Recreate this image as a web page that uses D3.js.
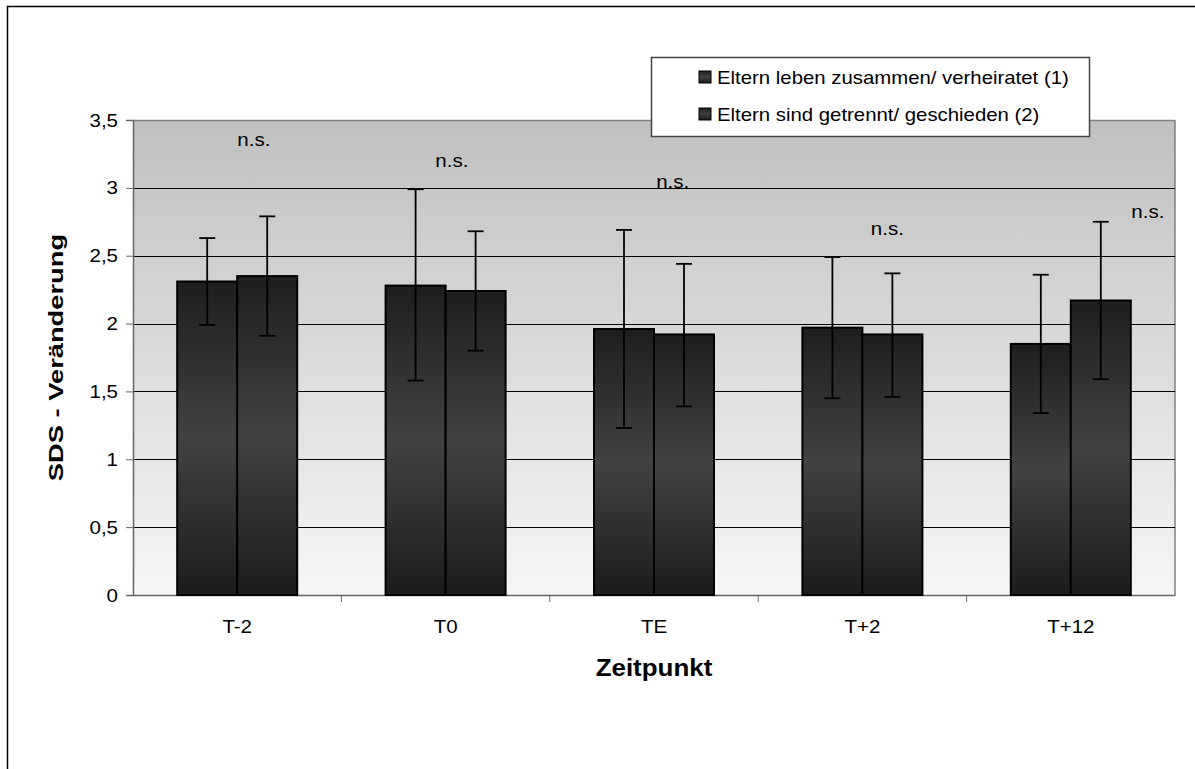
<!DOCTYPE html>
<html><head><meta charset="utf-8">
<script src="https://cdn.jsdelivr.net/npm/d3@7"></script>
<style>body{margin:0;background:#fff;}svg{display:block;font-family:Arial,"Liberation Sans",sans-serif;}</style>
</head><body>
<script>
const categories = ["T-2", "T0", "TE", "T+2", "T+12"];
const seriesNames = ["Eltern leben zusammen/ verheiratet (1)", "Eltern sind getrennt/ geschieden (2)"];
const meanTogether = [2.31, 2.28, 1.96, 1.97, 1.85];
const meanSeparated = [2.35, 2.24, 1.92, 1.92, 2.17];
const upperTogether = [2.63, 2.99, 2.69, 2.49, 2.36];
const lowerTogether = [1.99, 1.58, 1.23, 1.45, 1.34];
const upperSeparated = [2.79, 2.68, 2.44, 2.37, 2.75];
const lowerSeparated = [1.91, 1.80, 1.39, 1.46, 1.59];
const yTicks = [0, 0.5, 1, 1.5, 2, 2.5, 3, 3.5];
const yTickLabels = ["0", "0,5", "1", "1,5", "2", "2,5", "3", "3,5"];
const sigLabels = ["n.s.", "n.s.", "n.s.", "n.s.", "n.s."];
const sigLabelValue = [3.35, 3.2, 3.04, 2.7, 2.82];
const sigLabelShift = [0.08, 0.03, 0.09, 0.12, 0.37];

const W = 1195, H = 769;
const FONT = "Arial, 'Liberation Sans', sans-serif";
const svg = d3.select("body").append("svg").attr("width", W).attr("height", H);
const defs = svg.append("defs");
const bg = defs.append("linearGradient").attr("id","bg").attr("x1",0).attr("y1",0).attr("x2",0).attr("y2",1);
bg.append("stop").attr("offset","0%").attr("stop-color","#c0c0c0");
bg.append("stop").attr("offset","100%").attr("stop-color","#f6f6f6");
const bar = defs.append("linearGradient").attr("id","bar").attr("x1",0).attr("y1",0).attr("x2",0).attr("y2",1);
bar.append("stop").attr("offset","0%").attr("stop-color","#1e1e1e");
bar.append("stop").attr("offset","50%").attr("stop-color","#424242");
bar.append("stop").attr("offset","100%").attr("stop-color","#1c1c1c");

function stretch(sel, f){
  sel.each(function(){
    const len = this.getComputedTextLength();
    d3.select(this).attr("textLength", len*f).attr("lengthAdjust","spacingAndGlyphs");
  });
}

// outer frame
svg.append("rect").attr("x",7.5).attr("y",6.5).attr("width",W).attr("height",H).attr("fill","#fff").attr("stroke","#000").attr("stroke-width",1.5);

const m = {left:133, right:1175, top:120, bottom:595};
const x = d3.scaleBand().domain(categories).range([m.left, m.right]).paddingInner(0).paddingOuter(0);
const y = d3.scaleLinear().domain([0,3.5]).range([m.bottom, m.top]);
const barW = 60;

svg.append("rect").attr("x",m.left).attr("y",m.top).attr("width",m.right-m.left).attr("height",m.bottom-m.top).attr("fill","url(#bg)");
svg.append("line").attr("x1",m.left).attr("x2",m.right).attr("y1",m.top+0.5).attr("y2",m.top+0.5).attr("stroke","#808080").attr("stroke-width",1.5);
svg.append("line").attr("x1",m.right).attr("x2",m.right).attr("y1",m.top).attr("y2",m.bottom).attr("stroke","#808080").attr("stroke-width",1.5);

// gridlines
svg.append("g").selectAll("line").data(yTicks.filter(d=>d>0 && d<3.5)).join("line")
  .attr("x1",m.left).attr("x2",m.right).attr("y1",d=>Math.round(y(d))+0.5).attr("y2",d=>Math.round(y(d))+0.5)
  .attr("stroke","#000").attr("stroke-width",1);

// y axis
const yAxis = d3.axisLeft(y).tickValues(yTicks).tickFormat((d,i)=>yTickLabels[i]).tickSize(7).tickPadding(8);
const gy = svg.append("g").attr("transform",`translate(${m.left},0)`).call(yAxis);
gy.attr("font-family",FONT).attr("font-size",19);
gy.select(".domain").attr("stroke","#666").attr("stroke-width",1.5);
gy.selectAll(".tick line").attr("stroke","#666");
gy.selectAll("text").attr("fill","#000").call(stretch,1.08);

// x axis
const xAxis = d3.axisBottom(x).tickSize(0).tickPadding(25);
const gx = svg.append("g").attr("transform",`translate(0,${m.bottom})`).call(xAxis);
gx.attr("font-family",FONT).attr("font-size",19);
gx.select(".domain").attr("stroke","#666").attr("stroke-width",1.5);
gx.selectAll("text").attr("fill","#000").call(stretch,1.08);
svg.append("g").selectAll("line").data(categories.slice(1)).join("line")
  .attr("x1",d=>x(d)).attr("x2",d=>x(d)).attr("y1",m.bottom).attr("y2",m.bottom+7).attr("stroke","#666");

// bars
const series = [
  {mean: meanTogether, up: upperTogether, lo: lowerTogether, off: -barW},
  {mean: meanSeparated, up: upperSeparated, lo: lowerSeparated, off: 0}
];
series.forEach(s => {
  svg.append("g").selectAll("rect").data(categories).join("rect")
    .attr("x",(d)=>x(d)+x.bandwidth()/2+s.off)
    .attr("y",(d,i)=>y(s.mean[i]))
    .attr("width",barW).attr("height",(d,i)=>y(0)-y(s.mean[i]))
    .attr("fill","url(#bar)").attr("stroke","#000").attr("stroke-width",2);
});
series.forEach(s => {
  const g = svg.append("g");
  categories.forEach((c,i) => {
    const cx = x(c)+x.bandwidth()/2+s.off+barW/2;
    g.append("line").attr("x1",cx).attr("x2",cx).attr("y1",y(s.up[i])).attr("y2",y(s.lo[i])).attr("stroke","#000").attr("stroke-width",1.8);
    g.append("line").attr("x1",cx-8).attr("x2",cx+8).attr("y1",y(s.up[i])).attr("y2",y(s.up[i])).attr("stroke","#000").attr("stroke-width",1.8);
    g.append("line").attr("x1",cx-8).attr("x2",cx+8).attr("y1",y(s.lo[i])).attr("y2",y(s.lo[i])).attr("stroke","#000").attr("stroke-width",1.8);
  });
});

// significance labels
svg.append("g").selectAll("text").data(categories).join("text")
  .attr("x",(d,i)=>x(d)+x.bandwidth()*(0.5+sigLabelShift[i]))
  .attr("y",(d,i)=>y(sigLabelValue[i])+6)
  .attr("text-anchor","middle").attr("font-size",19).attr("fill","#000")
  .text((d,i)=>sigLabels[i]).call(stretch,1.08);

// axis titles
svg.append("text").attr("x",(m.left+m.right)/2).attr("y",676).attr("text-anchor","middle")
  .attr("font-size",24).attr("font-weight","bold").text("Zeitpunkt").call(stretch,1.08);
svg.append("text").attr("transform",`translate(63,${(m.top+m.bottom)/2}) rotate(-90)`).attr("text-anchor","middle")
  .attr("font-size",21).attr("font-weight","bold").text("SDS - Veränderung").call(stretch,1.3);

// legend
const lg = svg.append("g");
lg.append("rect").attr("x",651.5).attr("y",57.5).attr("width",438).attr("height",79).attr("fill","#fff").attr("stroke","#444").attr("stroke-width",1.5);
seriesNames.forEach((n,i) => {
  const ly = 84 + i*37;
  lg.append("rect").attr("x",699).attr("y",ly-13).attr("width",12).attr("height",12).attr("fill","url(#bar)").attr("stroke","#000").attr("stroke-width",1);
  lg.append("text").attr("x",717).attr("y",ly).attr("font-size",18.5).attr("fill","#000").text(n).call(stretch,1.1);
});
</script>
</body></html>
